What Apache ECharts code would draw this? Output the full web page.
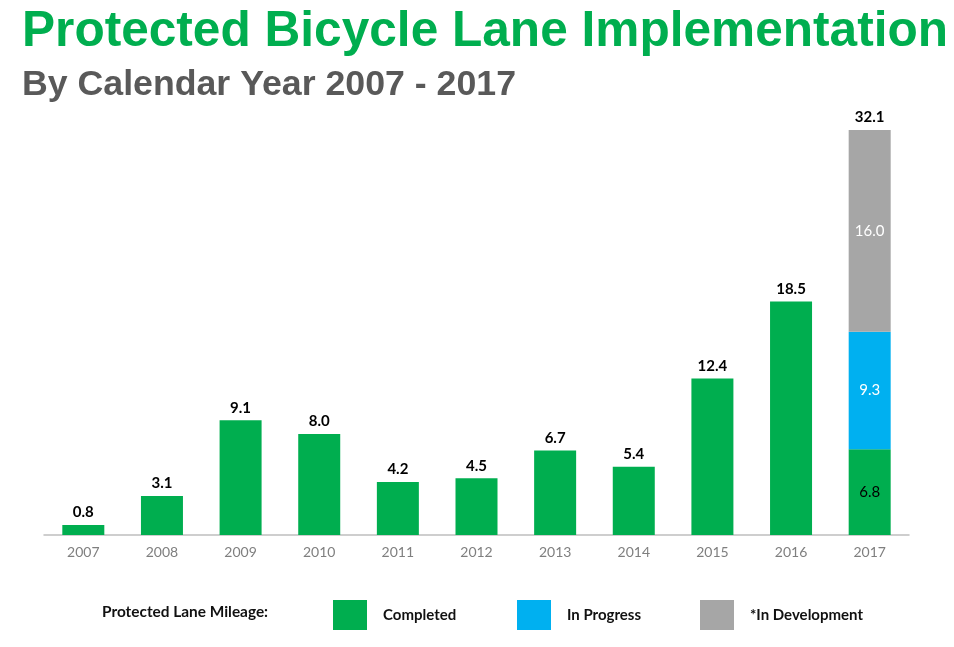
<!DOCTYPE html>
<html>
<head>
<meta charset="utf-8">
<script src="https://cdn.jsdelivr.net/npm/echarts@6/dist/echarts.min.js"></script>
<style>html,body{margin:0;padding:0;background:#fff;}#c{width:954px;height:647px;}</style>
</head>
<body>
<div id="c"></div>
<script>
var years = ['2007','2008','2009','2010','2011','2012','2013','2014','2015','2016','2017'];
var completed = [0.8, 3.1, 9.1, 8.0, 4.2, 4.5, 6.7, 5.4, 12.4, 18.5, 6.8];
var inProgress = ['-','-','-','-','-','-','-','-','-','-', 9.3];
var inDevelopment = ['-','-','-','-','-','-','-','-','-','-', 16.0];
var totalMarker = ['-','-','-','-','-','-','-','-','-','-', 0];

var GREEN = '#00AE4F', BLUE = '#00B0F0', GRAY = '#A6A6A6';
var LF = 'Lato, "Open Sans", sans-serif';

function num(v){ return (v === '-' || v == null) ? 0 : v; }
var totals = years.map(function(_, i){ return num(completed[i]) + num(inProgress[i]) + num(inDevelopment[i]); });

var completedData = completed.map(function(v, i){
  if (inProgress[i] !== '-' || inDevelopment[i] !== '-') {
    return { value: v, label: { position: 'inside', fontWeight: 'normal', fontSize: 15, color: '#000' } };
  }
  return v;
});

var chart = echarts.init(document.getElementById('c'));
chart.setOption({
  animation: false,
  backgroundColor: '#fff',
  title: [
    { text: 'Protected Bicycle Lane Implementation', left: 22, top: 7, padding: 0,
      textStyle: { fontFamily: '"Liberation Sans", Arial, sans-serif', fontWeight: 'bold', fontSize: 49.6, color: GREEN } },
    { text: 'By Calendar Year 2007 - 2017', left: 22, top: 67, padding: 0,
      textStyle: { fontFamily: '"Liberation Sans", Arial, sans-serif', fontWeight: 'bold', fontSize: 35.7, color: '#595959' } }
  ],
  legend: [
    { data: ['Completed'], left: 333, top: 600 },
    { data: ['In Progress'], left: 517, top: 600 },
    { data: ['*In Development'], left: 700, top: 600 }
  ].map(function(l){
    l.orient = 'horizontal';
    l.padding = 0;
    l.itemWidth = 34; l.itemHeight = 30; l.icon = 'rect';
    l.selectedMode = false;
    l.textStyle = { fontFamily: LF, fontWeight: 'bold', fontSize: 15, color: '#111', padding: [0,0,0,11] };
    return l;
  }),
  graphic: [
    { type: 'text', left: 102, top: 605,
      style: { text: 'Protected Lane Mileage:', font: 'bold 15.4px ' + LF, fill: '#111' } }
  ],
  grid: { left: 44, right: 45, top: 130, bottom: 112, containLabel: false },
  xAxis: {
    type: 'category', data: years,
    axisLine: { lineStyle: { color: '#BFBFBF', width: 1.5 } },
    axisTick: { show: false },
    axisLabel: { color: '#7F7F7F', fontSize: 14, fontFamily: LF, margin: 10 }
  },
  yAxis: { type: 'value', min: 0, max: 32.1, show: false, splitLine: { show: false } },
  series: [
    { name: 'Completed', type: 'bar', stack: 'a', barWidth: 42, data: completedData,
      itemStyle: { color: GREEN },
      label: { show: true, position: 'top', distance: 5, fontFamily: LF, fontWeight: 'bold', fontSize: 15, color: '#000',
        formatter: function(p){ return Number(p.value).toFixed(1); } } },
    { name: 'In Progress', type: 'bar', stack: 'a', barWidth: 42, data: inProgress,
      itemStyle: { color: BLUE },
      label: { show: true, position: 'inside', fontFamily: LF, fontSize: 15, color: '#fff',
        formatter: function(p){ return Number(p.value).toFixed(1); } } },
    { name: '*In Development', type: 'bar', stack: 'a', barWidth: 42, data: inDevelopment,
      itemStyle: { color: GRAY },
      label: { show: true, position: 'inside', fontFamily: LF, fontSize: 15, color: '#fff',
        formatter: function(p){ return Number(p.value).toFixed(1); } } },
    { name: 'Total', type: 'bar', stack: 'a', barWidth: 42, data: totalMarker,
      itemStyle: { color: 'rgba(0,0,0,0)' },
      label: { show: true, position: 'top', distance: 5, fontFamily: LF, fontWeight: 'bold', fontSize: 15, color: '#000',
        formatter: function(p){ return totals[p.dataIndex].toFixed(1); } } }
  ]
});
</script>
</body>
</html>
